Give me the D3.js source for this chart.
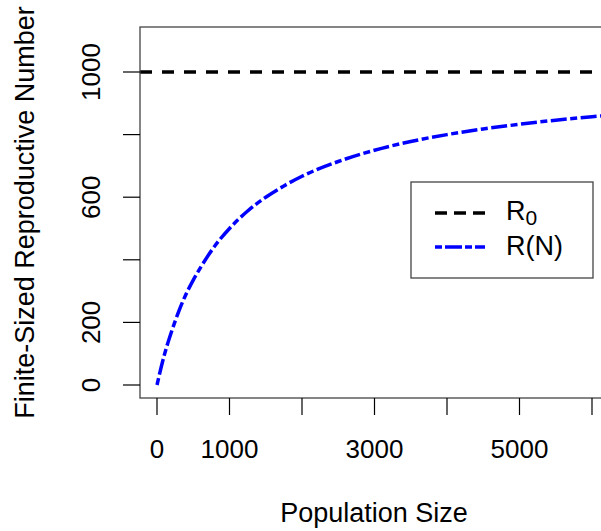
<!DOCTYPE html>
<html lang="en">
  <head>
    <meta charset="UTF-8" />
    <title>Finite-Sized Reproductive Number</title>
    <script src="https://d3js.org/d3.v7.min.js"></script>
    <style>
      body { margin: 0; background: #fff; }
      svg text { font-family: Arial, "Liberation Sans", sans-serif; fill: #000; }
    </style>
  </head>
  <body>
    <div id="chart"></div>
    <script>
      // values
      const popSize = [0, 100, 200, 300, 400, 500, 600, 800, 1000, 1250, 1500, 1750,
        2000, 2500, 3000, 3500, 4000, 4500, 5000, 5500, 6000, 6250];
      const rN = [0, 95, 170, 235, 290, 335, 375, 445, 500, 556, 600, 636,
        667, 714, 750, 778, 800, 818, 833, 846, 857, 862];
      const r0 = 1000;
      const xTicks = [0, 1000, 2000, 3000, 4000, 5000, 6000];
      const xTickLabels = [0, 1000, 3000, 5000];
      const yTicks = [0, 200, 400, 600, 800, 1000];
      const yTickLabels = [0, 200, 600, 1000];

      const W = 601, H = 531;
      const plot = { left: 140, top: 27, right: 608, bottom: 398 };

      const svg = d3.select('#chart').append('svg')
        .attr('width', W).attr('height', H);

      // x: 0 -> 157, 6000 -> 592 ; y: 0 -> 385, 1000 -> 72
      const x = d3.scaleLinear().domain([0, 6000]).range([157, 592]);
      const y = d3.scaleLinear().domain([0, 1000]).range([385, 72]);

      svg.append('clipPath').attr('id', 'clip')
        .append('rect')
        .attr('x', plot.left).attr('y', plot.top)
        .attr('width', plot.right - plot.left)
        .attr('height', plot.bottom - plot.top);

      const g = svg.append('g').attr('clip-path', 'url(#clip)');

      // R0 line
      g.append('line')
        .attr('x1', plot.left).attr('x2', plot.right)
        .attr('y1', y(r0)).attr('y2', y(r0))
        .attr('stroke', '#000')
        .attr('stroke-width', 3.5)
        .attr('stroke-dasharray', '12,10');

      // R(N) curve
      const line = d3.line()
        .x((d, i) => x(popSize[i]))
        .y((d) => y(d))
        .curve(d3.curveMonotoneX);

      g.append('path')
        .attr('d', line(rN))
        .attr('fill', 'none')
        .attr('stroke', '#0000ff')
        .attr('stroke-width', 3.5)
        .attr('stroke-dasharray', '7,3.5,16,3.5');

      // box
      svg.append('rect')
        .attr('x', plot.left).attr('y', plot.top)
        .attr('width', plot.right - plot.left)
        .attr('height', plot.bottom - plot.top)
        .attr('fill', 'none')
        .attr('stroke', '#444')
        .attr('stroke-width', 1.3);

      // y ticks
      svg.selectAll('.ytick').data(yTicks).enter().append('line')
        .attr('x1', 123).attr('x2', plot.left)
        .attr('y1', (d) => y(d)).attr('y2', (d) => y(d))
        .attr('stroke', '#000').attr('stroke-width', 1.2);

      svg.selectAll('.ylab').data(yTickLabels).enter().append('text')
        .attr('transform', (d) => `translate(100,${y(d)}) rotate(-90)`)
        .attr('text-anchor', 'middle')
        .style('font-size', '26px')
        .text((d) => d);

      // x ticks
      svg.selectAll('.xtick').data(xTicks).enter().append('line')
        .attr('x1', (d) => x(d)).attr('x2', (d) => x(d))
        .attr('y1', plot.bottom).attr('y2', 415)
        .attr('stroke', '#000').attr('stroke-width', 1.2);

      svg.selectAll('.xlab').data(xTickLabels).enter().append('text')
        .attr('x', (d) => x(d)).attr('y', 458)
        .attr('text-anchor', 'middle')
        .style('font-size', '26px')
        .text((d) => d);

      // axis titles
      svg.append('text')
        .attr('x', (plot.left + plot.right) / 2).attr('y', 522)
        .attr('text-anchor', 'middle')
        .style('font-size', '27px')
        .text('Population Size');

      svg.append('text')
        .attr('transform', `translate(34,${(plot.top + plot.bottom) / 2}) rotate(-90)`)
        .attr('text-anchor', 'middle')
        .style('font-size', '27px')
        .text('Finite-Sized Reproductive Number');

      // legend
      const leg = svg.append('g');
      leg.append('rect')
        .attr('x', 411).attr('y', 182)
        .attr('width', 182).attr('height', 96)
        .attr('fill', '#fff')
        .attr('stroke', '#444').attr('stroke-width', 1.3);

      leg.append('line')
        .attr('x1', 435).attr('x2', 485).attr('y1', 213).attr('y2', 213)
        .attr('stroke', '#000').attr('stroke-width', 3.5)
        .attr('stroke-dasharray', '12,7');
      leg.append('line')
        .attr('x1', 435).attr('x2', 485).attr('y1', 247).attr('y2', 247)
        .attr('stroke', '#0000ff').attr('stroke-width', 3.5)
        .attr('stroke-dasharray', '7,3,17,3');

      const t0 = leg.append('text').attr('x', 506).attr('y', 220)
        .style('font-size', '27px');
      t0.append('tspan').text('R');
      t0.append('tspan').attr('dy', 5).style('font-size', '21px').text('0');

      leg.append('text').attr('x', 506).attr('y', 255)
        .style('font-size', '27px')
        .text('R(N)');
    </script>
  </body>
</html>
